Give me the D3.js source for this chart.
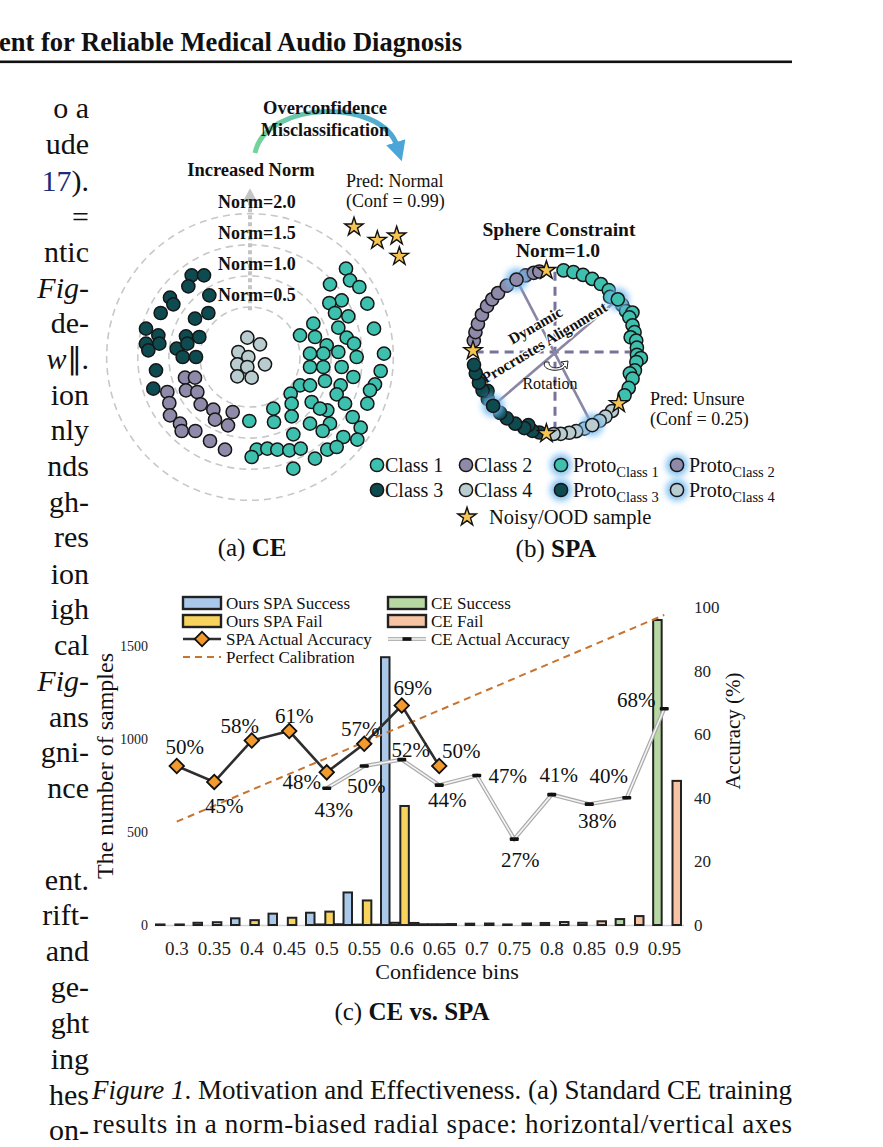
<!DOCTYPE html>
<html><head><meta charset="utf-8">
<script src="https://cdn.jsdelivr.net/npm/d3@7"></script>
<style>
body{margin:0;background:#fff}
svg{display:block}
text{font-family:"Liberation Serif","Times New Roman",serif;fill:#111}
</style></head><body>
<svg id="page" width="883" height="1147"></svg>
<script>
// ---------- chart (c) data ----------
var bins = ["0.3","0.35","0.4","0.45","0.5","0.55","0.6","0.65","0.7","0.75","0.8","0.85","0.9","0.95"];
var spaSuccess = [3, 12, 36, 61, 66, 175, 1440, 4, null, null, null, null, null, null];
var spaFail    = [3, 15, 26, 39, 72, 132, 640, 4, null, null, null, null, null, null];
var ceSuccess  = [null, null, null, null, 3, 2, 12, 4, 7, 3, 11, 12, 32, 1640];
var ceFail     = [null, null, null, null, 4, 2, 11, 5, 8, 8, 16, 20, 48, 775];
var spaAcc = [50, 45, 58, 61, 48, 57, 69, 50];           // bins 0.3 .. 0.65
var ceAcc  = [43, 50, 52, 44, 47, 27, 41, 38, 40, 68];   // bins 0.5 .. 0.95
var perfectCal = [32.5, 37.5, 42.5, 47.5, 52.5, 57.5, 62.5, 67.5, 72.5, 77.5, 82.5, 87.5, 92.5, 97.5];
var leftTicks = [0, 500, 1000, 1500];
var rightTicks = [0, 20, 40, 60, 80, 100];

// ---------- panel (a) data: feature coords (arbitrary units, origin at centre) ----------
var normRings = [0.5, 1.0, 1.5, 2.0];
var class1A = [[288,265],[300,230],[328,210],[240,218],[275,170],[352,160],[238,162],[255,132],[295,122],[372,85],
  [265,88],[190,100],[150,65],[195,60],[290,58],[230,35],[180,10],[220,10],[265,15],[320,0],[402,10],[180,-30],
  [220,-30],[275,-30],[392,-42],[225,-72],[310,-60],[150,-85],[272,-85],[375,-82],[122,-110],[180,-85],[260,-112],
  [352,-140],[125,-140],[185,-135],[285,-140],[70,-155],[125,-178],[232,-160],[180,-200],[240,-200],[308,-180],
  [-2,-192],[72,-195],[130,-232],[218,-222],[332,-212],[280,-240],[322,-248],[20,-278],[52,-275],[82,-278],
  [118,-280],[152,-275],[195,-305],[232,-278],[130,-335],[5,-300],[312,40],[360,-100],[210,-155],[260,-270]];
var class2A = [[-195,-62],[-165,-62],[-192,-100],[-248,-105],[-158,-105],[-242,-138],[-148,-142],[-110,-158],
  [-240,-175],[-210,-200],[-105,-188],[-52,-165],[-205,-222],[-164,-222],[-120,-252],[-75,-278],[-66,-205]];
var class3A = [[-175,245],[-138,245],[-185,212],[-122,185],[-240,178],[-230,158],[-268,132],[-125,132],[-165,115],
  [-312,85],[-275,65],[-192,62],[-152,60],[-312,40],[-272,40],[-220,25],[-188,40],[-202,0],[-162,0],[-305,20],
  [-282,-40],[-290,-95]];
var class4A = [[-8,58],[30,38],[-35,15],[-5,0],[-38,-22],[-8,-30],[45,-22],[-38,-58],[5,-62]];
var starsA = [[312,390],[382,350],[440,363],[448,302]];

// ---------- panel (b) data: [angle in degrees, radius / norm] ----------
var class1B = [[-84,1],[-77,1],[-70,1],[-63,1],[-56,1],[-49,1],[-45,0.95],[-35,1],[-30,1],[-27,1.06],[-25,1],[-19,1],
  [-14,1],[-11,0.94],[-8,1],[-3,1],[2,1],[4,1.05],[7,1],[13,1],[16,0.95],[19,1],[26,1],[32,1]];
var class2B = [[188,1],[194,1],[200,1],[207,1],[214,1],[220,1],[226,1],[234,1],[249,1],[255,1],[259,1]];
var class3B = [[101,1],[106,1],[110,0.95],[112,1],[119,1],[126,1],[132,1],[145,1],[150,0.95],[152,1],[158,1],[165,1],[171,1]];
var class4B = [[46,1],[52,1],[57,1],[69,1],[75,1],[80,1],[86,1],[91,1]];
var protoB = [[-40,1,0],[242,1,1],[139,1,2],[63,1,3]];
var starsB = [264, 181, 96, 39];

var colC1 = "#3ec0ae", colC2 = "#8f8aa9", colC3 = "#0d4b51", colC4 = "#b9cdd1", colStar = "#f6c453";
var classCols = [colC1, colC2, colC3, colC4];

var svg = d3.select("#page");
svg.append("rect").attr("width", 883).attr("height", 1147).attr("fill", "#fff");
var defs = svg.append("defs");
defs.append("filter").attr("id", "glow").attr("x", "-100%").attr("y", "-100%").attr("width", "300%").attr("height", "300%")
  .append("feGaussianBlur").attr("stdDeviation", 3);
defs.append("filter").attr("id", "soft").attr("x", "-50%").attr("y", "-50%").attr("width", "200%").attr("height", "200%")
  .append("feGaussianBlur").attr("stdDeviation", 6);
var grad = defs.append("linearGradient").attr("id", "arcGrad").attr("gradientUnits", "userSpaceOnUse")
  .attr("x1", 255).attr("x2", 400).attr("y1", 0).attr("y2", 0);
grad.append("stop").attr("offset", 0).attr("stop-color", "#74d39a");
grad.append("stop").attr("offset", 1).attr("stop-color", "#4aa5d8");
defs.append("marker").attr("id", "arrowBlue").attr("viewBox", "0 0 10 10").attr("refX", 2).attr("refY", 5)
  .attr("markerWidth", 4).attr("markerHeight", 4).attr("orient", "auto")
  .append("path").attr("d", "M0,0L10,5L0,10z").attr("fill", "#4aa5d8");

// ---------- page header ----------
svg.append("text").attr("x", -1).attr("y", 51).attr("font-size", 26.5).attr("font-weight", "bold")
  .attr("textLength", 463).attr("lengthAdjust", "spacingAndGlyphs")
  .text("ent for Reliable Medical Audio Diagnosis");
svg.append("rect").attr("x", 0).attr("y", 60.5).attr("width", 792).attr("height", 2.6).attr("fill", "#111");

// ---------- left column fragments ----------
var leftLines = [[["o a"]],[["ude"]],[["17","link"],[")."]],[["="]],[["ntic"]],[["Fig-","it"]],[["de-"]],
  [["w","it"],["\u2225."]],[["ion"]],[["nly"]],[["nds"]],[["gh-"]],[["res"]],[["ion"]],[["igh"]],[["cal"]],
  [["Fig-","it"]],[["ans"]],[["gni-"]],[["nce"]],[["ent."]],[["rift-"]],[["and"]],[["ge-"]],[["ght"]],
  [["ing"]],[["hes"]],[["on-"]]];
var leftY = [110,146,183,219,254,290,325,361,397,432,468,504,539,576,611,647,683,719,754,790,882,917,953,989,1025,1061,1097,1132];
leftLines.forEach(function(segs, i) {
  var t = svg.append("text").attr("x", 89).attr("y", leftY[i] + 8).attr("text-anchor", "end").attr("font-size", 30);
  segs.forEach(function(s) {
    var sp = t.append("tspan").text(s[0]);
    if (s[1] === "it") sp.attr("font-style", "italic");
    if (s[1] === "link") sp.style("fill", "#1b2a7a");
  });
});

// ---------- panel (a) CE ----------
var gA = svg.append("g");
var xA = d3.scaleLinear().domain([-300, 300]).range([150, 350]);
var yA = d3.scaleLinear().domain([-300, 300]).range([457, 257]);
var rA = d3.scaleLinear().domain([0.5, 2]).range([150, 430]);
var unitA = xA(1) - xA(0);

gA.selectAll("circle.ring").data(normRings).join("circle").attr("class", "ring")
  .attr("cx", xA(0)).attr("cy", yA(0)).attr("r", function(d) { return rA(d) * unitA; })
  .attr("fill", "none").attr("stroke", "#c8c8c8").attr("stroke-width", 1.6).attr("stroke-dasharray", "7,5");
// increased-norm arrow
gA.append("line").attr("x1", xA(0)).attr("x2", xA(0)).attr("y1", yA(140)).attr("y2", yA(470))
  .attr("stroke", "#c4c4c4").attr("stroke-width", 4).attr("stroke-dasharray", "4,3");
gA.append("path").attr("d", "M" + xA(0) + "," + (yA(470) - 12) + "l-7,13h14z").attr("fill", "#c4c4c4");
normRings.forEach(function(n) {
  gA.append("text").attr("x", 218).attr("y", yA(0) - rA(n) * unitA - 6)
    .attr("font-size", 18).attr("font-weight", "bold").text("Norm=" + n.toFixed(1));
});
gA.append("text").attr("x", 251).attr("y", 176).attr("text-anchor", "middle").attr("font-size", 18.5)
  .attr("font-weight", "bold").text("Increased Norm");
// overconfidence arc
gA.append("path").attr("d", "M255,153 C266,100 382,98 397,146").attr("fill", "none")
  .attr("stroke", "url(#arcGrad)").attr("stroke-width", 5).attr("marker-end", "url(#arrowBlue)");
gA.append("text").attr("x", 325).attr("y", 114).attr("text-anchor", "middle").attr("font-size", 18.5)
  .attr("font-weight", "bold").text("Overconfidence");
gA.append("text").attr("x", 325).attr("y", 136).attr("text-anchor", "middle").attr("font-size", 18)
  .attr("font-weight", "bold").text("Misclassification");
gA.append("text").attr("x", 346).attr("y", 187).attr("font-size", 18).text("Pred: Normal");
gA.append("text").attr("x", 346).attr("y", 207).attr("font-size", 18).text("(Conf = 0.99)");

function dotsA(data, col) {
  gA.append("g").selectAll("circle").data(data).join("circle")
    .attr("cx", function(d) { return xA(d[0]); }).attr("cy", function(d) { return yA(d[1]); })
    .attr("r", 6.6).attr("fill", col).attr("stroke", "#161616").attr("stroke-width", 1.5);
}
dotsA(class4A, colC4);
dotsA(class3A, colC3);
dotsA(class2A, colC2);
dotsA(class1A, colC1);
var star = d3.symbol().type(d3.symbolStar).size(105);
gA.selectAll("path.star").data(starsA).join("path").attr("class", "star")
  .attr("transform", function(d) { return "translate(" + xA(d[0]) + "," + yA(d[1]) + ")"; })
  .attr("d", star).attr("fill", colStar).attr("stroke", "#111").attr("stroke-width", 1.4);

var capA = svg.append("text").attr("x", 252).attr("y", 556).attr("text-anchor", "middle").attr("font-size", 25);
capA.append("tspan").text("(a) ");
capA.append("tspan").attr("font-weight", "bold").text("CE");

// ---------- panel (b) SPA ----------
var gB = svg.append("g");
var cxB = 555, cyB = 352;
var rB = d3.scaleLinear().domain([0, 1]).range([0, 82]);
function polar(a, r) {
  var t = a * Math.PI / 180;
  return [cxB + rB(r) * Math.cos(t), cyB + rB(r) * Math.sin(t)];
}
// soft shaded cross
gB.append("line").attr("x1", cxB).attr("x2", cxB).attr("y1", cyB - rB(0.95)).attr("y2", cyB + rB(0.95))
  .attr("stroke", "#8f8f8f").attr("stroke-width", 26).attr("opacity", 0.35).attr("filter", "url(#soft)");
gB.append("line").attr("y1", cyB).attr("y2", cyB).attr("x1", cxB - rB(0.95)).attr("x2", cxB + rB(0.95))
  .attr("stroke", "#8f8f8f").attr("stroke-width", 26).attr("opacity", 0.35).attr("filter", "url(#soft)");
gB.append("line").attr("x1", cxB).attr("x2", cxB).attr("y1", cyB - rB(0.98)).attr("y2", cyB + rB(0.98))
  .attr("stroke", "#77739a").attr("stroke-width", 3).attr("stroke-dasharray", "9,6");
gB.append("line").attr("y1", cyB).attr("y2", cyB).attr("x1", cxB - rB(0.98)).attr("x2", cxB + rB(0.98))
  .attr("stroke", "#77739a").attr("stroke-width", 3).attr("stroke-dasharray", "9,6");
// rotated axes through prototypes
[[protoB[1], protoB[3]], [protoB[0], protoB[2]]].forEach(function(pair) {
  var p = polar(pair[0][0], pair[0][1]), q = polar(pair[1][0], pair[1][1]);
  gB.append("line").attr("x1", p[0]).attr("y1", p[1]).attr("x2", q[0]).attr("y2", q[1])
    .attr("stroke", "#8a86a4").attr("stroke-width", 2.6);
});
gB.append("text").attr("transform", "translate(538,330) rotate(-30)").attr("text-anchor", "middle")
  .attr("font-size", 15.5).attr("font-weight", "bold").attr("stroke", "#fff").attr("stroke-width", 2.5)
  .attr("paint-order", "stroke").text("Dynamic");
gB.append("text").attr("transform", "translate(547,347) rotate(-31)").attr("text-anchor", "middle")
  .attr("font-size", 15.5).attr("font-weight", "bold").attr("stroke", "#fff").attr("stroke-width", 2.5)
  .attr("paint-order", "stroke").text("Procrustes Alignment");
gB.append("path").attr("d", "M545,362 C540,371 562,373 565,366 l2,3 l1,-8 l-7,1 l3,2 C560,370 548,369 549,362 z")
  .attr("fill", "#fff").attr("stroke", "#222").attr("stroke-width", 1);
gB.append("text").attr("x", 550).attr("y", 389).attr("text-anchor", "middle").attr("font-size", 16).text("Rotation");

function dotsB(data, col) {
  gB.append("g").selectAll("circle").data(data).join("circle")
    .attr("cx", function(d) { return polar(d[0], d[1])[0]; }).attr("cy", function(d) { return polar(d[0], d[1])[1]; })
    .attr("r", 6.6).attr("fill", col).attr("stroke", "#161616").attr("stroke-width", 1.5);
}
dotsB(class2B, colC2);
dotsB(class3B, colC3);
dotsB(class4B, colC4);
dotsB(class1B, colC1);
gB.append("g").selectAll("circle").data(protoB).join("circle")
  .attr("cx", function(d) { return polar(d[0], d[1])[0]; }).attr("cy", function(d) { return polar(d[0], d[1])[1]; })
  .attr("r", 11).attr("fill", "#6fb8f0").attr("opacity", 0.85).attr("filter", "url(#glow)");
gB.append("g").selectAll("circle").data(protoB).join("circle")
  .attr("cx", function(d) { return polar(d[0], d[1])[0]; }).attr("cy", function(d) { return polar(d[0], d[1])[1]; })
  .attr("r", 6.6).attr("fill", function(d) { return classCols[d[2]]; }).attr("stroke", "#161616").attr("stroke-width", 1.5);
gB.selectAll("path.star").data(starsB).join("path").attr("class", "star")
  .attr("transform", function(d) { var p = polar(d, 1); return "translate(" + p[0] + "," + p[1] + ")"; })
  .attr("d", star).attr("fill", colStar).attr("stroke", "#111").attr("stroke-width", 1.4);
gB.append("text").attr("x", 559).attr("y", 236).attr("text-anchor", "middle").attr("font-size", 19.5)
  .attr("font-weight", "bold").text("Sphere Constraint");
gB.append("text").attr("x", 558).attr("y", 257).attr("text-anchor", "middle").attr("font-size", 19.5)
  .attr("font-weight", "bold").text("Norm=1.0");
gB.append("text").attr("x", 650).attr("y", 405).attr("font-size", 18).text("Pred: Unsure");
gB.append("text").attr("x", 650).attr("y", 425).attr("font-size", 18).text("(Conf = 0.25)");

// shared legend for (a)/(b)
var legAB = [
  {x: 377, y: 465, col: colC1, lab: "Class 1"}, {x: 466, y: 465, col: colC2, lab: "Class 2"},
  {x: 561, y: 465, col: colC1, sub: "Class 1"}, {x: 677, y: 465, col: colC2, sub: "Class 2"},
  {x: 377, y: 490, col: colC3, lab: "Class 3"}, {x: 466, y: 490, col: colC4, lab: "Class 4"},
  {x: 561, y: 490, col: colC3, sub: "Class 3"}, {x: 677, y: 490, col: colC4, sub: "Class 4"}];
legAB.forEach(function(d) {
  if (d.sub) svg.append("circle").attr("cx", d.x).attr("cy", d.y).attr("r", 11).attr("fill", "#6fb8f0")
    .attr("opacity", 0.85).attr("filter", "url(#glow)");
  svg.append("circle").attr("cx", d.x).attr("cy", d.y).attr("r", 6.6).attr("fill", d.col)
    .attr("stroke", "#161616").attr("stroke-width", 1.5);
  var t = svg.append("text").attr("x", d.x + (d.sub ? 12 : 8)).attr("y", d.y + 7).attr("font-size", 20);
  if (d.sub) {
    t.append("tspan").text("Proto");
    t.append("tspan").attr("font-size", 14.5).attr("dy", 5).text(d.sub);
  } else t.text(d.lab);
});
svg.append("path").attr("transform", "translate(467,517)").attr("d", star).attr("fill", colStar)
  .attr("stroke", "#111").attr("stroke-width", 1.4);
svg.append("text").attr("x", 489).attr("y", 524).attr("font-size", 20.5).text("Noisy/OOD sample");
var capB = svg.append("text").attr("x", 556).attr("y", 557).attr("text-anchor", "middle").attr("font-size", 25);
capB.append("tspan").text("(b) ");
capB.append("tspan").attr("font-weight", "bold").text("SPA");

// ---------- panel (c) CE vs SPA ----------
var gC = svg.append("g");
var x = d3.scaleBand().domain(bins).range([158, 683]);
var keys = ["spaS", "ceS", "spaF", "ceF"];
var xSub = d3.scaleBand().domain(keys).range([-2, x.bandwidth() - 2]).paddingInner(0.12);
var yL = d3.scaleLinear().domain([0, 1710]).range([925, 607]);
var yR = d3.scaleLinear().domain([0, 100]).range([925, 607]);
var barCol = {spaS: "#aac9ea", ceS: "#b7d7a3", spaF: "#f8d45f", ceF: "#f7c3a2"};
var series = {spaS: spaSuccess, ceS: ceSuccess, spaF: spaFail, ceF: ceFail};
function cx(i) { return x(bins[i]) + x.bandwidth() / 2; }

gC.append("line").attr("x1", 155).attr("x2", 684).attr("y1", 925.5).attr("y2", 925.5)
  .attr("stroke", "#d2d2d2").attr("stroke-width", 1.6);

var barData = [];
bins.forEach(function(b, i) {
  keys.forEach(function(k) { if (series[k][i] != null) barData.push({bin: b, key: k, v: series[k][i]}); });
});
gC.append("g").selectAll("rect").data(barData).join("rect")
  .attr("x", function(d) { return x(d.bin) + xSub(d.key); }).attr("width", xSub.bandwidth())
  .attr("y", function(d) { return yL(d.v); }).attr("height", function(d) { return yL(0) - yL(d.v); })
  .attr("fill", function(d) { return barCol[d.key]; }).attr("stroke", "#222").attr("stroke-width", 2);

// axes
var axL = gC.append("g").attr("transform", "translate(150,0)")
  .call(d3.axisLeft(yL).tickValues(leftTicks).tickFormat(d3.format("d")).tickSize(0).tickPadding(2));
var axR = gC.append("g").attr("transform", "translate(692,0)")
  .call(d3.axisRight(yR).tickValues(rightTicks).tickFormat(d3.format("d")).tickSize(0).tickPadding(2));
var axB = gC.append("g").attr("transform", "translate(0,925)")
  .call(d3.axisBottom(x).tickSize(0).tickPadding(17));
[axL, axR, axB].forEach(function(a) {
  a.select(".domain").remove();
  a.selectAll("text").style("font-family", "'Liberation Serif', serif").style("fill", "#222");
});
axL.selectAll("text").attr("font-size", 14);
axR.selectAll("text").attr("font-size", 17);
axB.selectAll("text").attr("font-size", 19);

gC.append("text").attr("transform", "translate(113,766) rotate(-90)").attr("text-anchor", "middle")
  .attr("font-size", 24).text("The number of samples");
gC.append("text").attr("transform", "translate(740,731) rotate(-90)").attr("text-anchor", "middle")
  .attr("font-size", 21).text("Accuracy (%)");
gC.append("text").attr("x", 447).attr("y", 979).attr("text-anchor", "middle").attr("font-size", 22)
  .text("Confidence bins");

// perfect calibration
gC.append("path").datum(perfectCal)
  .attr("d", d3.line().x(function(d, i) { return cx(i); }).y(function(d) { return yR(d); }))
  .attr("fill", "none").attr("stroke", "#c8732e").attr("stroke-width", 2).attr("stroke-dasharray", "7,5");

// CE actual accuracy
var ceOff = 4;
var ceLine = d3.line().x(function(d, i) { return cx(i + ceOff); }).y(function(d) { return yR(d); });
gC.append("path").datum(ceAcc).attr("d", ceLine).attr("fill", "none").attr("stroke", "#a9a9a9").attr("stroke-width", 4);
gC.append("path").datum(ceAcc).attr("d", ceLine).attr("fill", "none").attr("stroke", "#f4f4f4").attr("stroke-width", 1.6);
gC.append("g").selectAll("rect").data(ceAcc).join("rect")
  .attr("x", function(d, i) { return cx(i + ceOff) - 4.5; }).attr("y", function(d) { return yR(d) - 1.8; })
  .attr("width", 9).attr("height", 3.6).attr("rx", 1).attr("fill", "#111");

// SPA actual accuracy
var spaLine = d3.line().x(function(d, i) { return cx(i); }).y(function(d) { return yR(d); });
gC.append("path").datum(spaAcc).attr("d", spaLine).attr("fill", "none").attr("stroke", "#2e2e2e").attr("stroke-width", 2.6);
var diamond = d3.symbol().type(d3.symbolSquare).size(105);
gC.append("g").selectAll("path").data(spaAcc).join("path")
  .attr("transform", function(d, i) { return "translate(" + cx(i) + "," + yR(d) + ") rotate(45)"; })
  .attr("d", diamond).attr("fill", "#f29a2e").attr("stroke", "#111").attr("stroke-width", 1.8);

// value labels
var spaLabelOff = [[8,-19],[10,24],[-12,-15],[5,-15],[-25,9],[-4,-15],[11,-18],[22,-15]];
var ceLabelOff = [[7,21],[2,20],[9,-10],[8,15],[31,0],[6,21],[7,-20],[8,16],[-18,-22],[-28,-9]];
spaAcc.forEach(function(v, i) {
  gC.append("text").attr("x", cx(i) + spaLabelOff[i][0]).attr("y", yR(v) + spaLabelOff[i][1]).attr("dy", "0.35em")
    .attr("text-anchor", "middle").attr("font-size", 21).text(v + "%");
});
ceAcc.forEach(function(v, i) {
  gC.append("text").attr("x", cx(i + ceOff) + ceLabelOff[i][0]).attr("y", yR(v) + ceLabelOff[i][1]).attr("dy", "0.35em")
    .attr("text-anchor", "middle").attr("font-size", 21).text(v + "%");
});

// legend (c)
var legC = [
  {x: 183, y: 603, type: "bar", col: barCol.spaS, lab: "Ours SPA Success"},
  {x: 183, y: 621, type: "bar", col: barCol.spaF, lab: "Ours SPA Fail"},
  {x: 183, y: 639, type: "spa", lab: "SPA Actual Accuracy"},
  {x: 183, y: 657, type: "cal", lab: "Perfect Calibration"},
  {x: 388, y: 603, type: "bar", col: barCol.ceS, lab: "CE Success"},
  {x: 388, y: 621, type: "bar", col: barCol.ceF, lab: "CE Fail"},
  {x: 388, y: 639, type: "ce", lab: "CE Actual Accuracy"}];
legC.forEach(function(d) {
  if (d.type === "bar") {
    gC.append("rect").attr("x", d.x).attr("y", d.y - 6).attr("width", 38).attr("height", 12)
      .attr("fill", d.col).attr("stroke", "#222").attr("stroke-width", 2.4);
  } else if (d.type === "spa") {
    gC.append("line").attr("x1", d.x).attr("x2", d.x + 38).attr("y1", d.y).attr("y2", d.y)
      .attr("stroke", "#2e2e2e").attr("stroke-width", 2.6);
    gC.append("path").attr("transform", "translate(" + (d.x + 19) + "," + d.y + ") rotate(45)")
      .attr("d", diamond).attr("fill", "#f29a2e").attr("stroke", "#111").attr("stroke-width", 1.8);
  } else if (d.type === "ce") {
    gC.append("line").attr("x1", d.x).attr("x2", d.x + 38).attr("y1", d.y).attr("y2", d.y)
      .attr("stroke", "#b5b5b5").attr("stroke-width", 4);
    gC.append("line").attr("x1", d.x).attr("x2", d.x + 38).attr("y1", d.y).attr("y2", d.y)
      .attr("stroke", "#f4f4f4").attr("stroke-width", 1.6);
    gC.append("rect").attr("x", d.x + 14.5).attr("y", d.y - 1.8).attr("width", 9).attr("height", 3.6).attr("fill", "#111");
  } else {
    gC.append("line").attr("x1", d.x).attr("x2", d.x + 38).attr("y1", d.y).attr("y2", d.y)
      .attr("stroke", "#c8732e").attr("stroke-width", 2).attr("stroke-dasharray", "7,5");
  }
  gC.append("text").attr("x", d.x + 43).attr("y", d.y + 6).attr("font-size", 17).text(d.lab);
});

var capC = svg.append("text").attr("x", 412).attr("y", 1020).attr("text-anchor", "middle").attr("font-size", 25);
capC.append("tspan").text("(c) ");
capC.append("tspan").attr("font-weight", "bold").text("CE vs. SPA");

// ---------- figure caption ----------
var cap1 = svg.append("text").attr("x", 92).attr("y", 1099).attr("font-size", 27)
  .attr("textLength", 700).attr("lengthAdjust", "spacing");
cap1.append("tspan").attr("font-style", "italic").text("Figure 1");
cap1.append("tspan").text(". Motivation and Effectiveness. (a) Standard CE training");
svg.append("text").attr("x", 93).attr("y", 1133).attr("font-size", 27).attr("textLength", 699)
  .attr("lengthAdjust", "spacing").text("results in a norm-biased radial space:  horizontal/vertical axes");
svg.append("text").attr("x", 93).attr("y", 1166).attr("font-size", 27).attr("textLength", 699)
  .attr("lengthAdjust", "spacing").text("denote two feature dimensions, radial coordinate is \u2016z\u2016, high-");
</script>
</body></html>
